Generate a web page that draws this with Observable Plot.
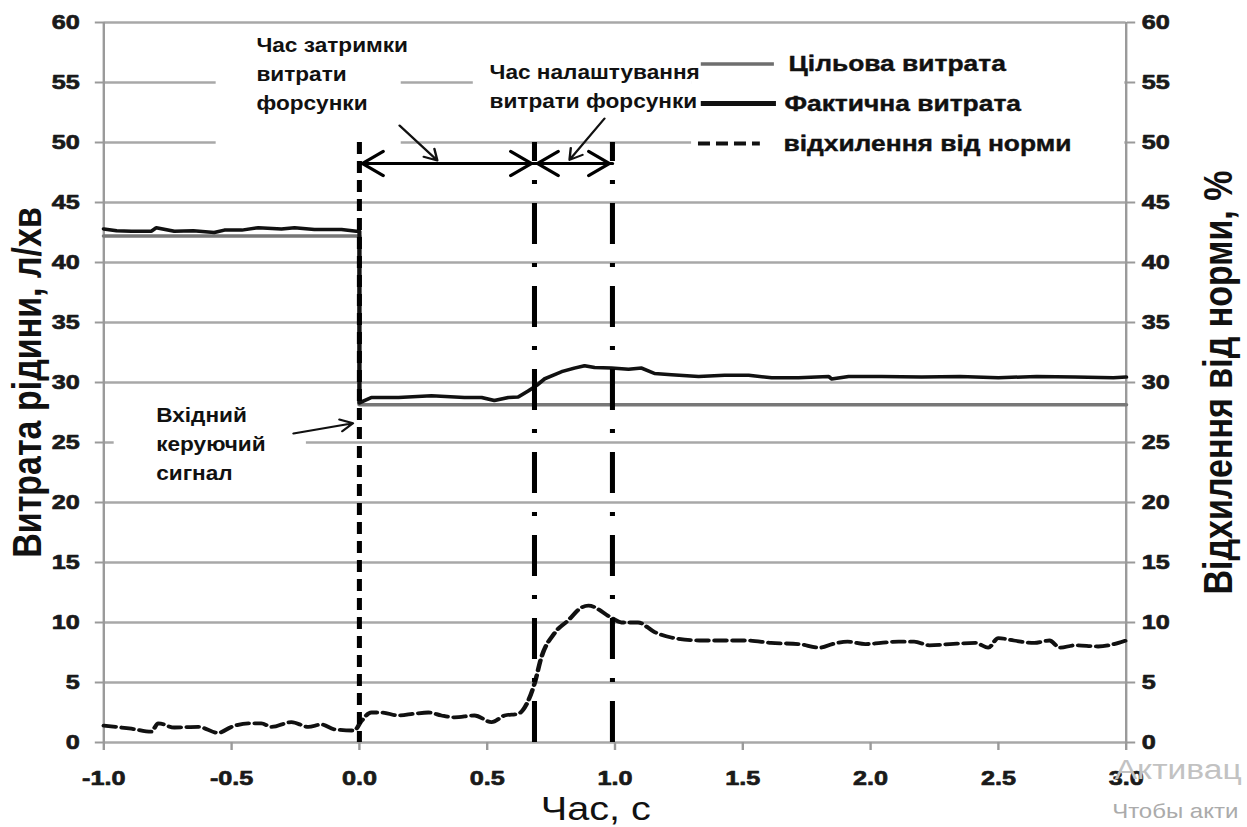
<!DOCTYPE html>
<html><head><meta charset="utf-8">
<script src="https://cdn.jsdelivr.net/npm/d3@7"></script>
<script src="https://cdn.jsdelivr.net/npm/@observablehq/plot@0.6"></script>
<style>
html,body{margin:0;padding:0;background:#fff;overflow:hidden}
#chart{width:1247px;height:827px;overflow:hidden}
#chart svg{transform:scaleX(1.2);transform-origin:0 0;display:block}
#chart svg text{font-weight:700}
</style></head><body><div id="chart"></div>
<script>
// ---- data ----
const xTicks = [-1, -0.5, 0, 0.5, 1, 1.5, 2, 2.5, 3];
const yTicks = [0, 5, 10, 15, 20, 25, 30, 35, 40, 45, 50, 55, 60];

const targetTime = [-1, 0, 0, 3];
const targetFlow = [42.2, 42.2, 28.15, 28.15];

const actualTime = [-1.0,-0.95,-0.892,-0.814,-0.795,-0.724,-0.65,-0.568,-0.528,-0.46,-0.395,-0.305,-0.254,-0.176,-0.07,-0.012,0,0,
  0.047,0.153,0.282,0.411,0.478,0.528,0.583,0.622,0.661,0.693,0.724,0.791,0.841,0.881,0.92,0.986,1.053,1.104,1.155,1.221,1.327,1.429,1.523,1.613,1.718,1.836,1.847,1.914,2.043,2.2,2.35,2.5,2.65,2.8,2.95,3.0];
const actualFlow = [42.8,42.65,42.6,42.6,42.9,42.6,42.65,42.5,42.7,42.7,42.9,42.8,42.9,42.75,42.75,42.6,42.6,28.3,
  28.75,28.75,28.9,28.75,28.75,28.5,28.75,28.8,29.3,29.75,30.3,30.9,31.2,31.4,31.25,31.2,31.1,31.2,30.75,30.65,30.5,30.6,30.6,30.4,30.4,30.5,30.3,30.5,30.5,30.45,30.5,30.4,30.5,30.45,30.4,30.45];

const deviationTime = [-1.0,-0.892,-0.814,-0.787,-0.724,-0.63,-0.552,-0.501,-0.434,-0.384,-0.344,-0.266,-0.2,-0.149,-0.098,-0.02,
  0.008,0.047,0.086,0.153,0.215,0.27,0.321,0.372,0.45,0.517,0.568,0.622,0.661,0.685,0.712,0.763,0.818,0.869,0.896,0.986,
  1.025,1.09,1.155,1.22,1.33,1.42,1.52,1.61,1.72,1.8,1.85,1.91,1.98,2.04,2.11,2.17,2.23,2.31,2.41,2.46,2.5,2.56,2.64,2.7,2.74,2.8,2.89,2.97,3.0];
const deviation = [1.4,1.15,0.9,1.6,1.25,1.3,0.8,1.3,1.6,1.6,1.3,1.7,1.3,1.5,1.1,1.0,
  1.8,2.5,2.5,2.25,2.4,2.5,2.25,2.1,2.25,1.7,2.25,2.4,3.5,4.9,7.1,9.1,10.2,11.25,11.4,10.4,
  10.0,10.0,9.2,8.75,8.5,8.5,8.5,8.3,8.2,7.9,8.2,8.4,8.2,8.3,8.4,8.4,8.1,8.2,8.3,7.9,8.7,8.5,8.3,8.5,7.9,8.1,8.0,8.3,8.5];

const markerDashed = [0];            // input control signal
const markerDashDot = [0.685, 0.99]; // delay end, settling end
const intervals = [[0, 0.685], [0.685, 0.99]];
const arrowLevel = 48.25;

const legendLabels = ["Цільова витрата", "Фактична витрата", "відхилення від норми"];
const annotationTexts = ["Час затримки\nвитрати\nфорсунки", "Час налаштування\nвитрати форсунки", "Вхідний\nкеруючий\nсигнал"];
const titles = {y: "Витрата рідини, л/хв", y2: "Відхилення від норми, %", x: "Час, с"};
const watermark = ["Активац", "Чтобы акти"];

// ---- layout (data-space anchors) ----
const annotations = [
  {x: -0.403, y: 55.9, text: annotationTexts[0]},
  {x: 0.509, y: 54.85, text: annotationTexts[1]},
  {x: -0.795, y: 25.05, text: annotationTexts[2]}
];
const pointers = [
  {x1: 0.157, y1: 51.42, x2: 0.305, y2: 48.5},
  {x1: 0.959, y1: 52.0, x2: 0.822, y2: 48.55},
  {x1: -0.258, y1: 25.75, x2: -0.025, y2: 26.6}
];
const masks = [
  {x1: -0.56, x2: 0.164, y1: 49.3, y2: 59.3},
  {x1: 0.446, x2: 1.30, y1: 51.4, y2: 57.7},
  {x1: 1.30, x2: 2.995, y1: 47.0, y2: 58.1},
  {x1: -0.959, x2: -0.207, y1: 20.8, y2: 28.9}
];
const legendRows = [
  {y: 56.55, x1: 1.338, x2: 1.624, tx: 1.679},
  {y: 53.25, x1: 1.338, x2: 1.632, tx: 1.663},
  {y: 49.92, x1: 1.327, x2: 1.569, tx: 1.659}
];

const target = targetTime.map((t, i) => ({t, v: targetFlow[i]}));
const actual = actualTime.map((t, i) => ({t, v: actualFlow[i]}));
const dev = deviationTime.map((t, i) => ({t, v: deviation[i]}));
const arrowSegs = intervals.flatMap(([a, b]) => [
  {x1: b, x2: a, y1: arrowLevel, y2: arrowLevel},
  {x1: a, x2: b, y1: arrowLevel, y2: arrowLevel}
]);

const FONT = "'Liberation Sans', Arial, Helvetica, sans-serif";
const axisText = {color: "#1a1a1a", fontSize: 21, fontWeight: "bold", textStroke: "#1a1a1a", textStrokeWidth: 0.7, label: null};

const plot = Plot.plot({
  width: 1039, height: 827,
  marginLeft: 86, marginRight: 101, marginTop: 22, marginBottom: 85,
  x: {domain: [-1, 3]},
  y: {domain: [0, 60]},
  style: {fontFamily: FONT, fontSize: "21px", fontWeight: "bold", color: "#1a1a1a", background: "#fff"},
  marks: [
    Plot.ruleY(yTicks, {stroke: "#a8a8a8", strokeWidth: 2.5}),
    Plot.rect(masks, {x1: "x1", x2: "x2", y1: "y1", y2: "y2", fill: "#fff"}),
    Plot.ruleX([-1, 3], {stroke: "#9a9a9a", strokeWidth: 2}),
    Plot.axisY({anchor: "left", ticks: yTicks, tickSize: 7, tickPadding: 13, stroke: "#9a9a9a", strokeWidth: 2, ...axisText}),
    Plot.axisY({anchor: "right", ticks: yTicks, tickSize: 7, tickPadding: 6, stroke: "#9a9a9a", strokeWidth: 2, ...axisText}),
    Plot.axisX({ticks: xTicks, tickFormat: d => d.toFixed(1), tickSize: 8, tickPadding: 20, stroke: "#9a9a9a", strokeWidth: 2, ...axisText}),
    Plot.line(target, {x: "t", y: "v", stroke: "#777", strokeWidth: 3.5}),
    Plot.line(actual, {x: "t", y: "v", stroke: "#111", strokeWidth: 3.5, strokeLinejoin: "round"}),
    Plot.line(dev, {x: "t", y: "v", stroke: "#111", strokeWidth: 3.8, strokeDasharray: "10,5", curve: "monotone-x"}),
    Plot.ruleX(markerDashed, {y1: 50, y2: 0, stroke: "#000", strokeWidth: 4.2, strokeDasharray: "12,7"}),
    Plot.ruleX(markerDashDot, {y1: 0, y2: 50, stroke: "#000", strokeWidth: 4.2, strokeDasharray: "41,19,4,19"}),
    Plot.arrow(arrowSegs, {x1: "x1", y1: "y1", x2: "x2", y2: "y2", stroke: "#000", strokeWidth: 3, headAngle: 70, headLength: 10.5, insetEnd: 2.5}),
    Plot.arrow(pointers, {x1: "x1", y1: "y1", x2: "x2", y2: "y2", stroke: "#111", strokeWidth: 2, headAngle: 60, headLength: 9}),
    Plot.text(annotations, {x: "x", y: "y", text: "text", textAnchor: "start", lineAnchor: "middle", lineHeight: 1.4, fontSize: 20.5, fontWeight: "bold", fill: "#111"}),
    Plot.ruleY([legendRows[0]], {y: "y", x1: "x1", x2: "x2", stroke: "#6e6e6e", strokeWidth: 3.5}),
    Plot.ruleY([legendRows[1]], {y: "y", x1: "x1", x2: "x2", stroke: "#111", strokeWidth: 5}),
    Plot.ruleY([legendRows[2]], {y: "y", x1: "x1", x2: "x2", stroke: "#111", strokeWidth: 4, strokeDasharray: "10,5"}),
    Plot.text(legendRows, {x: "tx", y: "y", text: (d, i) => legendLabels[i], textAnchor: "start", lineAnchor: "middle", fontSize: 22, fontWeight: "bold", fill: "#111", stroke: "#111", strokeWidth: 0.4}),
    Plot.text([titles.y], {frameAnchor: "left", textAnchor: "middle", rotate: -90, dx: -63, fontSize: 34, fontWeight: "bold", fill: "#111"}),
    Plot.text([titles.y2], {frameAnchor: "right", textAnchor: "middle", rotate: -90, dx: 77, fontSize: 34, fontWeight: "bold", fill: "#111"}),
    Plot.text([titles.x], {frameAnchor: "bottom", dx: -16, dy: 77, fontSize: 33, fill: "#111"}),
    Plot.text([{x: 2.955, y: -2.33, s: watermark[0], f: 28, c: "#c2c2c2"}, {x: 2.945, y: -5.75, s: watermark[1], f: 20, c: "#ababab"}],
      {x: "x", y: "y", text: "s", fontSize: d => d.f, fill: "c", textAnchor: "start", lineAnchor: "middle", clip: false})
  ]
});
document.getElementById("chart").appendChild(plot);
const svg = d3.select(plot);
const norm = s => s.replace(/\n/g, "");
const annSet = new Set(annotationTexts.map(norm));
const normalSet = new Set([titles.x, ...watermark]);
svg.selectAll("text").each(function () {
  const t = this.textContent;
  if (annSet.has(t)) {
    this.setAttribute("transform", (this.getAttribute("transform") || "") + " scale(0.92,1)");
  }
  if (normalSet.has(t)) this.style.fontWeight = "400";
});
</script></body></html>
